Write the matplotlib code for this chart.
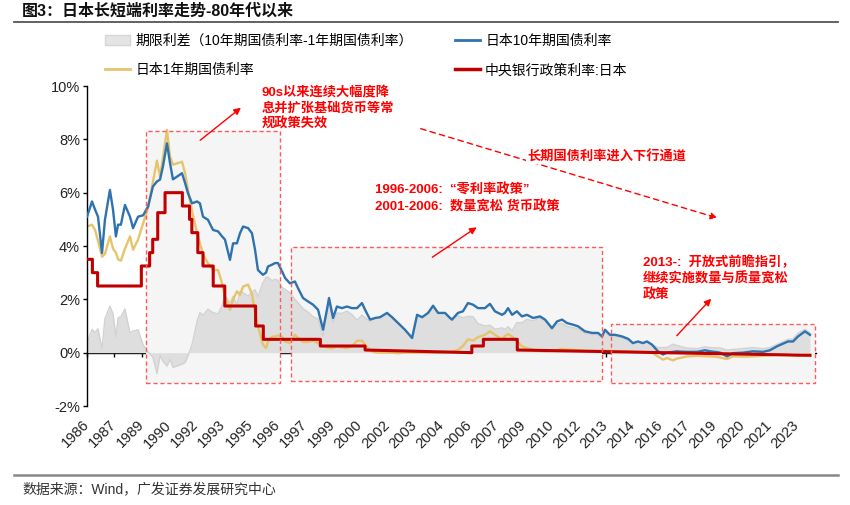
import matplotlib
matplotlib.use("Agg")
import matplotlib.pyplot as plt
import numpy as np
from matplotlib.lines import Line2D
from matplotlib.patches import Patch, Rectangle

plt.rcParams["font.family"] = ["Liberation Sans", "Noto Sans CJK SC", "DejaVu Sans"]

# ---- data (decimal years, %) ----
dates = [
    1986.55, 1986.81, 1986.97, 1987.12, 1987.33, 1987.48, 1987.74, 1987.90, 1988.05, 1988.16,
    1988.31, 1988.52, 1988.78, 1988.94, 1989.20, 1989.46, 1989.72, 1989.97, 1990.18, 1990.34,
    1990.49, 1990.70, 1990.86, 1991.01, 1991.22, 1991.48, 1991.64, 1991.79, 1992.00, 1992.26,
    1992.41, 1992.57, 1992.83, 1993.09, 1993.35, 1993.56, 1993.71, 1993.97, 1994.13, 1994.33,
    1994.49, 1994.65, 1994.91, 1995.11, 1995.27, 1995.42, 1995.68, 1995.84, 1995.94, 1996.15,
    1996.31, 1996.46, 1996.67, 1996.83, 1997.08, 1997.34, 1997.50, 1997.76, 1998.02, 1998.28,
    1998.54, 1998.80, 1999.00, 1999.11, 1999.32, 1999.52, 1999.78, 2000.04, 2000.30, 2000.56,
    2000.82, 2000.98, 2001.24, 2001.50, 2001.76, 2002.12, 2002.38, 2002.69, 2003.05, 2003.42,
    2003.68, 2003.94, 2004.25, 2004.51, 2004.77, 2005.13, 2005.39, 2005.49, 2005.80, 2006.06,
    2006.32, 2006.58, 2006.84, 2007.20, 2007.46, 2007.72, 2008.09, 2008.24, 2008.40, 2008.61,
    2008.86, 2009.12, 2009.38, 2009.70, 2010.06, 2010.32, 2010.68, 2010.94, 2011.20, 2011.46,
    2011.77, 2012.03, 2012.39, 2012.76, 2013.07, 2013.28, 2013.43, 2013.69, 2013.95, 2014.31,
    2014.63, 2014.88, 2015.14, 2015.40, 2015.61, 2015.87, 2016.18, 2016.44, 2016.65, 2016.96,
    2017.17, 2017.32, 2017.69, 2018.21, 2018.62, 2018.88, 2019.24, 2019.40, 2019.76, 2020.07,
    2020.59, 2021.11, 2021.63, 2021.99, 2022.36, 2022.67, 2022.93, 2023.19, 2023.45, 2023.81,
    2024.07,
]

jgb10y = [
    5.10, 5.67, 5.36, 5.10, 3.74, 4.98, 6.10, 5.36, 4.36, 4.80,
    4.80, 5.54, 5.10, 4.67, 5.10, 5.15, 5.48, 6.23, 6.42, 6.49,
    6.98, 7.85, 7.10, 6.50, 6.60, 6.73, 6.36, 5.98, 5.60, 5.67,
    5.60, 5.10, 4.98, 4.60, 4.55, 4.36, 4.24, 3.48, 4.10, 4.10,
    4.48, 4.73, 4.67, 4.48, 3.86, 3.10, 2.92, 3.00, 3.23, 3.30,
    3.36, 3.36, 3.05, 2.80, 2.60, 2.67, 2.42, 2.05, 1.92, 1.80,
    1.61, 0.86, 1.61, 2.05, 1.30, 1.73, 1.67, 1.73, 1.67, 1.67,
    1.86, 1.61, 1.24, 1.30, 1.33, 1.49, 1.33, 1.11, 0.86, 0.55,
    1.42, 1.33, 1.49, 1.76, 1.49, 1.49, 1.30, 1.24, 1.49, 1.55,
    1.86, 1.80, 1.67, 1.67, 1.83, 1.55, 1.42, 1.49, 1.67, 1.42,
    1.55, 1.36, 1.42, 1.30, 1.36, 1.24, 0.92, 1.17, 1.24, 1.11,
    1.05, 0.99, 0.80, 0.74, 0.74, 0.61, 0.86, 0.67, 0.67, 0.61,
    0.52, 0.36, 0.42, 0.36, 0.42, 0.30, 0.05, -0.07, 0.00, 0.03,
    0.05, 0.04, 0.03, 0.03, 0.09, 0.05, 0.02, 0.00, -0.14, -0.02,
    0.00, 0.05, 0.03, 0.09, 0.24, 0.34, 0.42, 0.42, 0.61, 0.80,
    0.67,
]

jgb1y = [
    4.73, 4.80, 4.60, 4.20, 3.60, 3.70, 4.36, 3.90, 3.75, 3.50,
    3.45, 3.90, 4.36, 3.86, 4.24, 4.85, 5.45, 6.40, 7.20, 6.60,
    7.30, 8.35, 7.35, 7.05, 7.10, 7.16, 6.73, 6.10, 5.30, 4.50,
    4.10, 3.70, 3.35, 3.10, 3.10, 2.60, 2.10, 1.61, 1.98, 2.30,
    2.17, 2.48, 2.55, 2.20, 1.50, 1.00, 0.30, 0.17, 0.40, 0.60,
    0.61, 0.65, 0.60, 0.42, 0.36, 0.67, 0.55, 0.40, 0.40, 0.45,
    0.35, 0.25, 0.20, 0.18, 0.17, 0.24, 0.20, 0.17, 0.24, 0.45,
    0.45, 0.30, 0.08, 0.01, 0.00, 0.00, 0.00, -0.02, 0.00, 0.00,
    0.00, 0.00, 0.00, 0.00, 0.00, 0.01, 0.03, 0.04, 0.10, 0.25,
    0.50, 0.45, 0.58, 0.67, 0.80, 0.67, 0.49, 0.62, 0.70, 0.60,
    0.42, 0.24, 0.17, 0.11, 0.06, 0.05, 0.07, 0.10, 0.14, 0.12,
    0.11, 0.09, 0.07, 0.07, 0.07, 0.07, 0.07, 0.07, 0.06, 0.05,
    0.05, 0.04, 0.03, 0.02, 0.01, 0.00, -0.14, -0.26, -0.20, -0.29,
    -0.22, -0.20, -0.14, -0.12, -0.13, -0.14, -0.16, -0.18, -0.24, -0.14,
    -0.15, -0.14, -0.12, -0.10, -0.07, -0.07, -0.08, -0.10, -0.12, -0.08,
    -0.07,
]

# BOJ policy rate, vertices (vertical steps have repeated dates)
policy_dates = [
    1986.55, 1986.83, 1986.83, 1987.10, 1987.10, 1989.37, 1989.37, 1989.80, 1989.80,
    1989.96, 1989.96, 1990.22, 1990.22, 1990.60, 1990.60, 1991.50, 1991.50, 1991.87,
    1991.87, 1991.99, 1991.99, 1992.30, 1992.30, 1992.57, 1992.57, 1993.10, 1993.10,
    1993.70, 1993.70, 1995.30, 1995.30, 1995.70, 1995.70, 1998.66, 1998.66, 2000.98,
    2000.98, 2006.52, 2006.52, 2007.12, 2007.12, 2008.88, 2008.88, 2024.07,
]
policy_rate = [
    3.5, 3.5, 3.0, 3.0, 2.5, 2.5, 3.25, 3.25, 3.75,
    3.75, 4.25, 4.25, 5.25, 5.25, 6.0, 6.0, 5.5, 5.5,
    5.0, 5.0, 4.5, 4.5, 3.75, 3.75, 3.25, 3.25, 2.5,
    2.5, 1.75, 1.75, 1.0, 1.0, 0.5, 0.5, 0.25, 0.25,
    0.1, 0.0, 0.25, 0.25, 0.5, 0.5, 0.1, -0.1,
]

tick_labels = ["1986", "1987", "1989", "1990", "1992", "1993", "1995", "1996", "1997",
               "1999", "2000", "2002", "2003", "2004", "2006", "2007", "2009", "2010",
               "2012", "2013", "2014", "2016", "2017", "2019", "2020", "2021", "2023"]

labels = ["期限利差（10年期国债利率-1年期国债利率）", "日本1年期国债利率",
          "日本10年期国债利率", "中央银行政策利率:日本"]

# ---- figure ----
RED = "#FF0000"
BOX_RED = "#FF5A5A"
c_blue, c_yellow, c_red, c_gray = "#2E72AE", "#E6C46C", "#C00000", "#DEDEDE"

fig = plt.figure(figsize=(8.5, 5.05), dpi=100)
ax = fig.add_axes([87 / 850, 1 - 406 / 505, 729 / 850, 320 / 505])
x0 = dates[0]
ax.set_xlim(x0, x0 + 729 / 19.27)
ax.set_ylim(-2, 10)

d = np.array(dates)
spread = np.array(jgb10y) - np.array(jgb1y)

# highlight boxes
boxes = [(1989.61, -1.12, 1996.57, 8.31), (1997.14, -1.05, 2013.28, 3.97),
         (2013.74, -1.12, 2024.33, 1.09)]
for bx0, by0, bx1, by1 in boxes:
    ax.add_patch(Rectangle((bx0, by0), bx1 - bx0, by1 - by0, facecolor="#F5F5F5",
                           edgecolor="none", zorder=0.5, clip_on=False))
    ax.add_patch(Rectangle((bx0, by0), bx1 - bx0, by1 - by0, facecolor="none",
                           edgecolor=BOX_RED, lw=1.0, ls=(0, (3, 2)), zorder=6,
                           clip_on=False))

ax.fill_between(d, 0, spread, color=c_gray, lw=0, zorder=1)
ax.plot(d, spread, color="#D2D2D2", lw=1.0, zorder=1.1)
ax.plot(d, jgb1y, color=c_yellow, lw=1.7, zorder=2)
ax.plot(d, jgb10y, color=c_blue, lw=1.7, zorder=3)
ax.plot(policy_dates, policy_rate, color=c_red, lw=2.2, zorder=4)

# axes styling
for s in ["top", "right", "bottom"]:
    ax.spines[s].set_visible(False)
ax.spines["left"].set_linewidth(1.0)
ax.set_yticks(np.arange(-2, 11, 2))
ax.set_yticklabels([f"{v}%" for v in range(-2, 11, 2)])
ax.tick_params(axis="y", direction="out", length=3, width=1, pad=2, labelsize=10.5,
               labelcolor="#222222")

tick_pos = [x0 + k * 17 / 12 for k in range(len(tick_labels))]
ax.set_xticks(tick_pos)
ax.set_xticklabels(tick_labels, rotation=45, ha="right", rotation_mode="anchor",
                   va="center")
ax.tick_params(axis="x", length=0, pad=12, labelsize=10.5, labelcolor="#222222")

sec = ax.secondary_xaxis(1 / 6)
sec.set_xticks(tick_pos)
sec.set_xticklabels([])
sec.tick_params(direction="out", length=3, width=1)
sec.spines["bottom"].set_linewidth(1.0)

# legend
handles = [Patch(facecolor="#E4E4E4", edgecolor="#D6D6D6"),
           Line2D([], [], color=c_yellow, lw=2),
           Line2D([], [], color=c_blue, lw=2),
           Line2D([], [], color=c_red, lw=2.5)]
fig.legend(handles, labels, ncol=2, loc="upper left",
           bbox_to_anchor=(105 / 850, 1 - 34 / 505), frameon=False, fontsize=10,
           handlelength=1.8, handletextpad=0.4, columnspacing=3.0, labelspacing=1.1,
           borderpad=0, borderaxespad=0)

# annotations
ann = dict(color=RED, fontsize=9.5, fontweight="bold", zorder=7)
ax.text(1995.63, 10.0, "90s以来连续大幅度降\n息并扩张基础货币等常\n规政策失效",
        va="top", ha="left", linespacing=1.3, **ann)
ax.text(2001.50, 6.33, "1996-2006:  “零利率政策”\n2001-2006:  数量宽松 货币政策",
        va="top", ha="left", linespacing=1.3, **ann)
ax.text(2015.40, 3.63, "2013-:  开放式前瞻指引，\n继续实施数量与质量宽松\n政策",
        va="top", ha="left", linespacing=1.3, **ann)
ax.text(2009.38, 7.34, "长期国债利率进入下行通道", va="center", ha="left",
        bbox=dict(facecolor="white", edgecolor="none", pad=0.5), **ann)

arrow = dict(arrowstyle="-|>", color=RED, lw=1.0, mutation_scale=10)
for (xa, ya, xb, yb) in [(1992.31, 7.90, 1994.65, 9.25), (2004.35, 3.52, 2006.89, 4.76),
                         (2017.06, 0.56, 2019.04, 2.10)]:
    ax.annotate("", xy=(xb, yb), xytext=(xa, ya), arrowprops=arrow, zorder=7,
                annotation_clip=False)
ax.annotate("", xy=(2019.40, 5.02), xytext=(2003.73, 8.43), zorder=5,
            arrowprops=dict(arrowstyle="-|>", color=RED, lw=1.0, ls=(0, (4, 3)),
                            mutation_scale=10), annotation_clip=False)

# title, rules, source
fig.text(22 / 850, 1 - 11 / 505, "图3：日本长短端利率走势-80年代以来", fontsize=11.5,
         fontweight="bold", va="center", ha="left", color="#111111")
fig.add_artist(Line2D([14 / 850, 838 / 850], [1 - 22 / 505] * 2, color="#555555", lw=1.3))
fig.add_artist(Line2D([14 / 850, 838 / 850], [1 - 475 / 505] * 2, color="#888888", lw=1.8))
fig.text(22 / 850, 1 - 489 / 505, "数据来源：Wind，广发证券发展研究中心", fontsize=10,
         va="center", ha="left", color="#333333")

fig.savefig("out.png", dpi=100)
